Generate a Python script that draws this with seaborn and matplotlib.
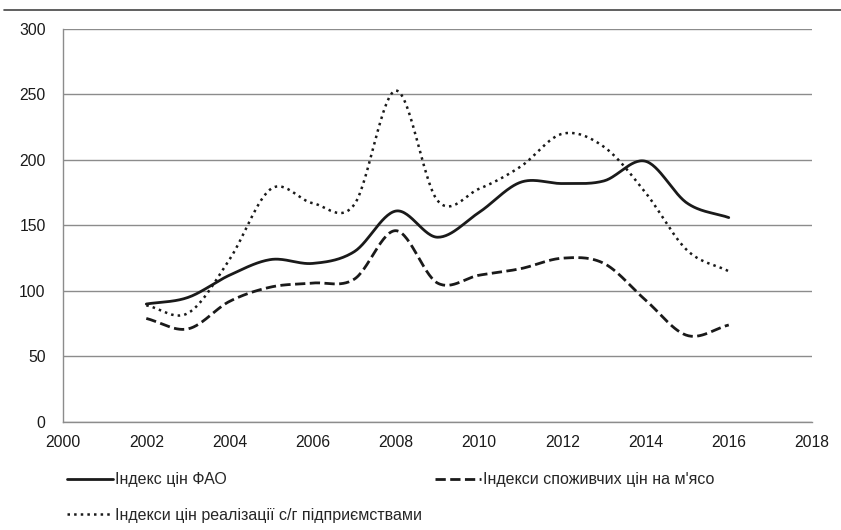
import numpy as np
import pandas as pd
import matplotlib
matplotlib.use("Agg")
import matplotlib.pyplot as plt
from matplotlib.lines import Line2D
import seaborn as sns

years = [2002, 2003, 2004, 2005, 2006, 2007, 2008, 2009, 2010, 2011, 2012, 2013, 2014, 2015, 2016]
fao = [90, 95, 112, 124, 121, 130, 161, 141, 160, 183, 182, 184, 199, 167, 156]
meat = [79, 71, 92, 103, 106, 109, 146, 106, 112, 117, 125, 121, 93, 66, 74]
agri = [89, 83, 124, 178, 167, 166, 253, 169, 178, 195, 220, 210, 175, 131, 115]

labels = ["Індекс цін ФАО",
          "Індекси споживчих цін на м'ясо",
          "Індекси цін реалізації с/г підприємствами"]
styles = ["-", "--", ":"]


def smooth(x, y, n=30):
    # Catmull-Rom style smoothing, like Excel's "smoothed line"
    x = np.asarray(x, float)
    y = np.asarray(y, float)
    px = np.concatenate([[2 * x[0] - x[1]], x, [2 * x[-1] - x[-2]]])
    py = np.concatenate([[2 * y[0] - y[1]], y, [2 * y[-1] - y[-2]]])
    xs, ys = [], []
    t = np.linspace(0, 1, n, endpoint=False)
    for i in range(1, len(px) - 2):
        for p, out in ((px, xs), (py, ys)):
            p0, p1, p2, p3 = p[i - 1], p[i], p[i + 1], p[i + 2]
            c1 = p1 + (p2 - p0) / 6
            c2 = p2 - (p3 - p1) / 6
            out.extend((1 - t) ** 3 * p1 + 3 * (1 - t) ** 2 * t * c1
                       + 3 * (1 - t) * t ** 2 * c2 + t ** 3 * p2)
    xs.append(x[-1])
    ys.append(y[-1])
    return np.array(xs), np.array(ys)


sns.set_style("white")
plt.rcParams["font.family"] = ["Liberation Sans", "DejaVu Sans"]

fig = plt.figure(figsize=(8.41, 5.30), dpi=100)
ax = fig.add_axes([0.075, 0.204, 0.8905, 0.7413])

frames = []
for lab, vals in zip(labels, [fao, meat, agri]):
    sx, sy = smooth(years, vals)
    frames.append(pd.DataFrame({"year": sx, "value": sy, "series": lab}))
df = pd.concat(frames, ignore_index=True)

handles = []
for lab, ls in zip(labels, styles):
    sub = df[df["series"] == lab]
    lw = 2.0 if ls != ":" else 1.8
    sns.lineplot(data=sub, x="year", y="value", ax=ax, color="#1a1a1a",
                 linestyle=ls, linewidth=lw, sort=False, estimator=None)
    handles.append(Line2D([], [], color="#1a1a1a", linestyle=ls, linewidth=lw))

ax.set_xlim(2000, 2018)
ax.set_ylim(0, 300)
ax.set_xticks(range(2000, 2019, 2))
ax.set_yticks(range(0, 301, 50))
ax.set_xlabel("")
ax.set_ylabel("")
ax.yaxis.grid(True, color="#8c8c8c", linewidth=1.0)
ax.set_axisbelow(True)
for s in ["top", "right"]:
    ax.spines[s].set_visible(False)
for s in ["left", "bottom"]:
    ax.spines[s].set_color("#8c8c8c")
    ax.spines[s].set_linewidth(1.0)
ax.tick_params(axis="both", direction="out", length=4.5, width=1, color="#8c8c8c",
               labelsize=11.3, labelcolor="#1a1a1a")
ax.tick_params(axis="y", pad=8)
ax.tick_params(axis="x", pad=5)

fig.add_artist(Line2D([0.005, 1.0], [0.981, 0.981], color="#444444", linewidth=1.2))

fig.legend([handles[0], handles[2], handles[1]],
           [labels[0], labels[2], labels[1]],
           ncol=2, frameon=False, loc="upper left", borderpad=0,
           bbox_to_anchor=(0.0702, 0.124), fontsize=11.5,
           handlelength=2.9, handletextpad=0.12, columnspacing=0.8,
           labelspacing=1.3)

fig.savefig("out.png", dpi=100)
